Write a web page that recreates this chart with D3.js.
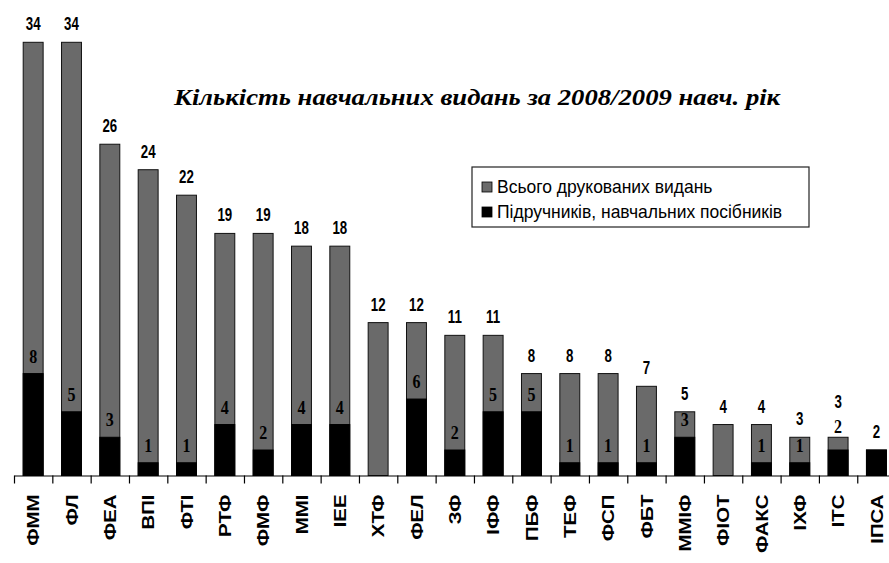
<!DOCTYPE html>
<html>
<head>
<meta charset="utf-8">
<script src="https://cdn.jsdelivr.net/npm/d3@7"></script>
<style>
  body { margin: 0; background: #fff; }
  svg { display: block; }
</style>
</head>
<body>
<svg class="chart-svg"></svg>
<script>
const WIDTH = 889;
const HEIGHT = 563;

const categories = ["ФММ", "ФЛ", "ФЕА", "ВПІ", "ФТІ", "РТФ", "ФМФ", "ММІ", "ІЕЕ", "ХТФ", "ФЕЛ", "ЗФ",
  "ІФФ", "ПБФ", "ТЕФ", "ФСП", "ФБТ", "ММІФ", "ФІОТ", "ФАКС", "ІХФ", "ІТС", "ІПСА"];
const totalValues = [34, 34, 26, 24, 22, 19, 19, 18, 18, 12, 12, 11, 11, 8, 8, 8, 7, 5, 4, 4, 3, 3, 2];
const textbookValues = [8, 5, 3, 1, 1, 4, 2, 4, 4, 0, 6, 2, 5, 5, 1, 1, 1, 3, 0, 1, 1, 2, 2];
const seriesNames = ["Всього друкованих видань", "Підручників, навчальних посібників"];
const titleText = "Кількість навчальних видань за 2008/2009 навч. рік";

const GRAY = "#6a6a6a";
const BLACK = "#000";

const data = categories.map((c, i) => ({ cat: c, total: totalValues[i], book: textbookValues[i] }));

const svg = d3.select(".chart-svg").attr("width", WIDTH).attr("height", HEIGHT);

const STEP = 38.33;
const X0 = 14;
const x = d3.scaleBand()
  .domain(categories)
  .range([X0, X0 + STEP * categories.length])
  .paddingInner(0.48)
  .paddingOuter(0.24);

// band boundaries for tick marks
const xb = d3.scaleLinear().domain([0, categories.length]).range(x.range());

const y = d3.scaleLinear().domain([0, 34]).range([475.5, 42.3]);

// bars: total (gray) behind, textbooks (black) in front
svg.append("g")
  .selectAll("rect")
  .data(data)
  .join("rect")
  .attr("x", d => x(d.cat))
  .attr("y", d => y(d.total))
  .attr("width", x.bandwidth())
  .attr("height", d => y(0) - y(d.total))
  .attr("fill", GRAY)
  .attr("stroke", "#111")
  .attr("stroke-width", 1);

svg.append("g")
  .selectAll("rect")
  .data(data.filter(d => d.book > 0))
  .join("rect")
  .attr("x", d => x(d.cat))
  .attr("y", d => y(d.book))
  .attr("width", x.bandwidth())
  .attr("height", d => y(0) - y(d.book))
  .attr("fill", BLACK)
  .attr("stroke", "#000")
  .attr("stroke-width", 1);

// axis with ticks at band edges
svg.append("g")
  .attr("transform", `translate(0, ${y(0)})`)
  .call(d3.axisBottom(xb).tickValues(d3.range(0, categories.length)).tickSize(8).tickSizeOuter(0).tickFormat(""))
  .call(g => g.selectAll("path, line").attr("stroke", "#000").attr("stroke-width", 1.2));

// category labels
svg.append("g")
  .attr("transform", `translate(0, ${y(0)})`)
  .call(d3.axisBottom(x).tickSize(0).tickPadding(0))
  .call(g => g.select(".domain").remove())
  .selectAll(".tick text")
  .attr("font-family", "'Liberation Sans', Arial, sans-serif")
  .attr("font-weight", "bold")
  .attr("font-size", 17)
  .attr("fill", "#000")
  .attr("text-anchor", "end")
  .attr("x", 0)
  .attr("y", 0)
  .attr("dy", "0.36em")
  .attr("transform", "translate(0, 19) rotate(-90) scale(1.2, 1)");

// value labels
const labelPos = data.map(d => {
  let bookY = y(d.book) - 11;
  let totalY = y(d.total) - 12;
  if (d.book > 0 && d.total > d.book && y(d.book) - y(d.total) < 16) {
    bookY = y(d.book) - 17;
    totalY = bookY - 25;
  }
  return { ...d, bookY, totalY };
});

const valueLabel = (sel, font) => sel
  .attr("text-anchor", "middle")
  .attr("font-family", font)
  .attr("font-weight", "bold")
  .attr("fill", "#000");

svg.append("g")
  .selectAll("text")
  .data(labelPos)
  .join("text")
  .attr("transform", d => `translate(${x(d.cat) + x.bandwidth() / 2}, ${d.totalY}) scale(0.95, 1.25)`)
  .attr("font-size", 14)
  .call(valueLabel, "'Liberation Sans Narrow', 'Liberation Sans', Arial, sans-serif")
  .text(d => d.total);

svg.append("g")
  .selectAll("text")
  .data(labelPos.filter(d => d.book > 0 && d.book !== d.total))
  .join("text")
  .attr("transform", d => `translate(${x(d.cat) + x.bandwidth() / 2}, ${d.bookY}) scale(1, 1.15)`)
  .attr("font-size", 16)
  .call(valueLabel, "'Liberation Serif', 'Times New Roman', serif")
  .text(d => d.book);

// title
svg.append("text")
  .attr("transform", "translate(477, 105) scale(1.16, 1)")
  .attr("text-anchor", "middle")
  .attr("font-family", "'Liberation Serif', 'Times New Roman', serif")
  .attr("font-style", "italic")
  .attr("font-weight", "bold")
  .attr("font-size", 23)
  .attr("fill", "#000")
  .text(titleText);

// legend
const legend = svg.append("g").attr("transform", "translate(472, 167)");
legend.append("rect")
  .attr("width", 337)
  .attr("height", 60)
  .attr("fill", "#fff")
  .attr("stroke", "#222")
  .attr("stroke-width", 1.2);

const items = legend.selectAll(".item")
  .data(seriesNames)
  .join("g")
  .attr("class", "item")
  .attr("transform", (d, i) => `translate(10, ${15 + i * 25})`);

items.append("rect")
  .attr("width", 10)
  .attr("height", 10)
  .attr("fill", (d, i) => i === 0 ? GRAY : BLACK)
  .attr("stroke", "#000")
  .attr("stroke-width", 0.8);

items.append("text")
  .attr("x", 15)
  .attr("y", 11)
  .attr("font-family", "'Liberation Sans', Arial, sans-serif")
  .attr("font-size", 17.5)
  .attr("fill", "#000")
  .attr("transform", "scale(1, 1.03)")
  .text(d => d);
</script>
</body>
</html>
